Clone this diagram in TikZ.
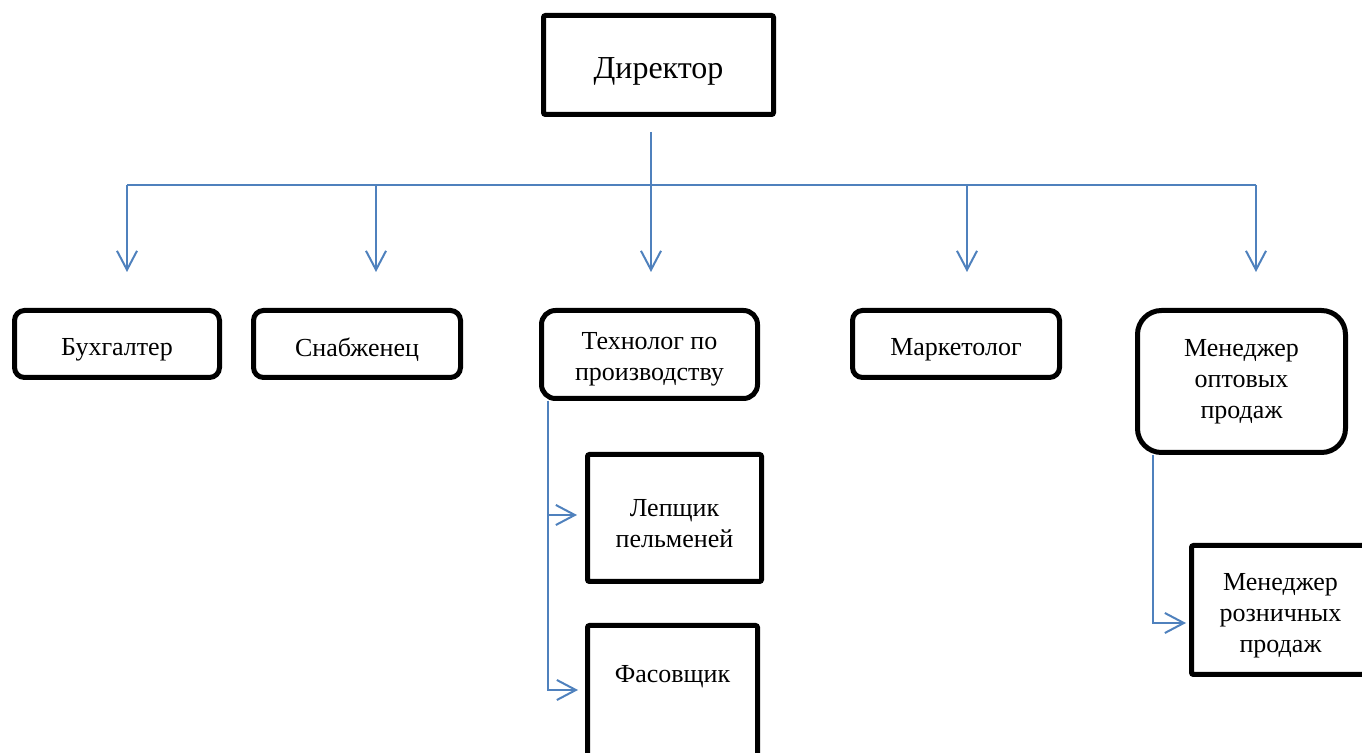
\documentclass[tikz,border=0pt]{standalone}
\usepackage{fontspec}
\setmainfont{Liberation Serif}
\usetikzlibrary{arrows.meta,positioning}
\definecolor{linkblue}{RGB}{79,129,189}
\tikzset{head node/.style={rectangle,draw,line width=2.5pt,rounded corners=1pt,minimum width=115pt,minimum height=49.5pt,inner sep=0pt,text height=16.6pt,font=\fontsize{16}{19}\selectfont},
         staff node/.style={rectangle,draw,line width=2.5pt,rounded corners=5pt,minimum width=103.5pt,minimum height=33.5pt,inner sep=0pt,text height=14.6pt,align=center,font=\fontsize{13}{15.5}\selectfont},
         sub node/.style={staff node,rounded corners=1pt},
         link/.style={draw=linkblue,line width=1pt}
}

\begin{document}
\begin{tikzpicture}[x=0.5pt,y=-0.5pt,
>={Straight Barb[length=9.5pt,width=10pt]}]
\useasboundingbox (0,0) rectangle (1362,753);
\clip (0,0) rectangle (1362,753);

\node [head node,anchor=north west] (dir) at (541,13) {Директор};
\node [staff node,anchor=north west,minimum width=102.5pt] (buh) at (12,308) {Бухгалтер};
\node [staff node,right = 14.5pt of buh] (snab) {Снабженец};
\node [staff node,anchor=north west,minimum width=108pt,minimum height=44pt,rounded corners=7pt,text height=29pt] (tech) at (539,308) {Технолог по\\производству};
\node [staff node,anchor=north west] (mark) at (850,308) {Маркетолог};
\node [staff node,anchor=north west,minimum width=104pt,minimum height=71pt,rounded corners=12pt,text height=39.6pt] (mopt) at (1135,308) {Менеджер\\оптовых\\продаж};
\node [sub node,anchor=north west,minimum width=87pt,minimum height=63.5pt,text height=29.6pt] (lep) at (585,452) {Лепщик\\пельменей};
\node [sub node,anchor=north west,minimum width=85pt,minimum height=86pt,text depth=44pt] (fas) at (585,623) {Фасовщик};
\node [sub node,anchor=north west,minimum width=89pt,minimum height=64.5pt,text height=45.6pt] (mroz) at (1189,543) {Менеджер\\розничных\\продаж};

\coordinate (dout) at ([xshift=-3.75pt,yshift=-7.5pt]dir.south);
\foreach \x/\n in {127/buh,376/snab,651/tech,967/mark,1256/mopt}
  \coordinate (b\n) at (\x,185);
\draw [link] (dout) -- (btech);
\draw [link] (bbuh) -- (bmopt);
\foreach \n in {buh,snab,tech,mark,mopt}
  \draw [link,->,shorten >=18pt] (b\n) -- (b\n |- \n.north);

\draw [link,->] ([xshift=4.5pt]tech.south west) |- ([xshift=-4pt,yshift=1.5pt]lep.west);
\draw [link,->] ([xshift=4.5pt]tech.south west) |- ([xshift=-3.5pt,yshift=-33.5pt]fas.north west);
\draw [link,->] ([xshift=9pt]mopt.south west) |- ([xshift=-1.5pt,yshift=-6.5pt]mroz.west);
\end{tikzpicture}
\end{document}
